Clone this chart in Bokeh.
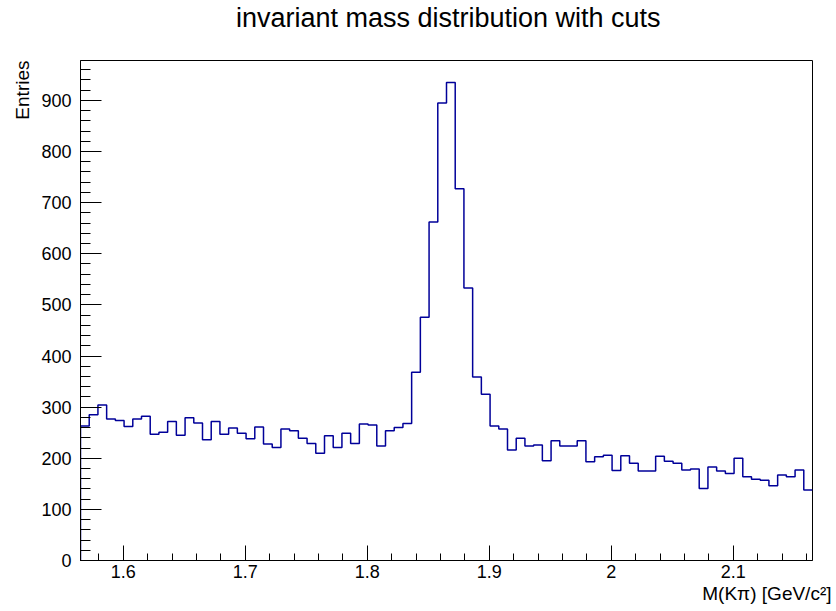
import numpy as np
from bokeh.plotting import figure
from bokeh.layouts import column
from bokeh.models import Range1d, FixedTicker, Title
from bokeh.core.properties import value
from bokeh.embed import file_html
from bokeh.resources import INLINE

# Histogram of the K-pi invariant mass (entries per bin)
mass_lo, mass_hi = 1.565, 2.165
counts = [
    263, 285, 304, 277, 274, 262, 277, 282, 247, 251,
    272, 245, 279, 269, 236, 272, 247, 259, 249, 238,
    261, 228, 221, 257, 254, 239, 229, 210, 244, 221,
    249, 229, 267, 265, 224, 254, 260, 268, 368, 476,
    662, 895, 935, 727, 533, 359, 325, 263, 257, 216,
    239, 224, 226, 195, 234, 224, 224, 234, 193, 203,
    206, 176, 205, 190, 175, 175, 204, 194, 190, 177,
    179, 141, 183, 175, 170, 200, 164, 159, 157, 146,
    167, 164, 177, 138,
]

x_tick_values = [1.6, 1.7, 1.8, 1.9, 2.0, 2.1]
x_tick_labels = ["1.6", "1.7", "1.8", "1.9", "2", "2.1"]
y_tick_values = [0, 100, 200, 300, 400, 500, 600, 700, 800, 900]
y_max = 978

title_text = "invariant mass distribution with cuts"
x_title = "M(K\u03c0) [GeV/c\u00b2]"
y_title = "Entries"

FONT = "Liberation Sans"
HEAD_H = 60

# --- title strip across the top of the page ---
head = figure(
    width=836, height=HEAD_H,
    x_range=Range1d(0, 836), y_range=Range1d(0, HEAD_H),
    output_backend="svg", toolbar_location=None,
    x_axis_location=None, y_axis_location=None,
    min_border_left=0, min_border_right=0,
    min_border_top=0, min_border_bottom=0,
)
head.title.visible = False
head.outline_line_color = None
head.background_fill_color = "white"
head.border_fill_color = "white"
head.xgrid.visible = False
head.ygrid.visible = False
head.text(
    x=[420], y=[43], text=[title_text],
    text_font=value(FONT), text_font_size="27px", text_color="black",
    text_align="center", text_baseline="alphabetic",
)

# --- histogram panel ---
edges = np.linspace(mass_lo, mass_hi, len(counts) + 1)

# outline of the histogram: rises from zero at the first edge, ends on the frame
xs = [edges[0]]
ys = [0]
for i, c in enumerate(counts):
    xs += [edges[i], edges[i + 1]]
    ys += [c, c]

p = figure(
    width=836, height=611 - HEAD_H,
    x_range=Range1d(mass_lo, mass_hi), y_range=Range1d(0, y_max),
    output_backend="svg", toolbar_location=None,
    min_border_left=80, min_border_right=24,
    min_border_top=0, min_border_bottom=51,
)
p.title.visible = False
p.background_fill_color = "white"
p.border_fill_color = "white"
p.xgrid.visible = False
p.ygrid.visible = False
p.outline_line_color = "black"
p.outline_line_width = 1

p.line(xs, ys, line_color="#000099", line_width=1.5)

x_minor = [round(v, 3) for v in np.arange(1.58, 2.165, 0.02)]
y_minor = list(range(0, y_max, 20))

p.xaxis.ticker = FixedTicker(ticks=x_tick_values, minor_ticks=x_minor)
p.xaxis.major_label_overrides = dict(zip(x_tick_values, x_tick_labels))
p.yaxis.ticker = FixedTicker(ticks=y_tick_values, minor_ticks=y_minor)

for ax in (p.xaxis, p.yaxis):
    ax.axis_line_color = "black"
    ax.major_tick_line_color = "black"
    ax.minor_tick_line_color = "black"
    ax.major_tick_out = 0
    ax.minor_tick_out = 0
    ax.major_label_text_font = FONT
    ax.major_label_text_font_size = "18px"
    ax.major_label_text_color = "black"

p.xaxis.major_tick_in = 15
p.xaxis.minor_tick_in = 7
p.xaxis.major_label_standoff = 4
p.yaxis.major_tick_in = 21
p.yaxis.minor_tick_in = 10
p.yaxis.major_label_standoff = 9

p.add_layout(Title(
    text=x_title, align="right", offset=-19,
    text_font=FONT, text_font_size="19px", text_font_style="normal",
    text_color="black", standoff=0,
), "below")
p.add_layout(Title(
    text=y_title, align="right",
    text_font=FONT, text_font_size="19px", text_font_style="normal",
    text_color="black", standoff=12,
), "left")

page = column(head, p, spacing=0)

open("out.html", "w").write(file_html(page, INLINE))
